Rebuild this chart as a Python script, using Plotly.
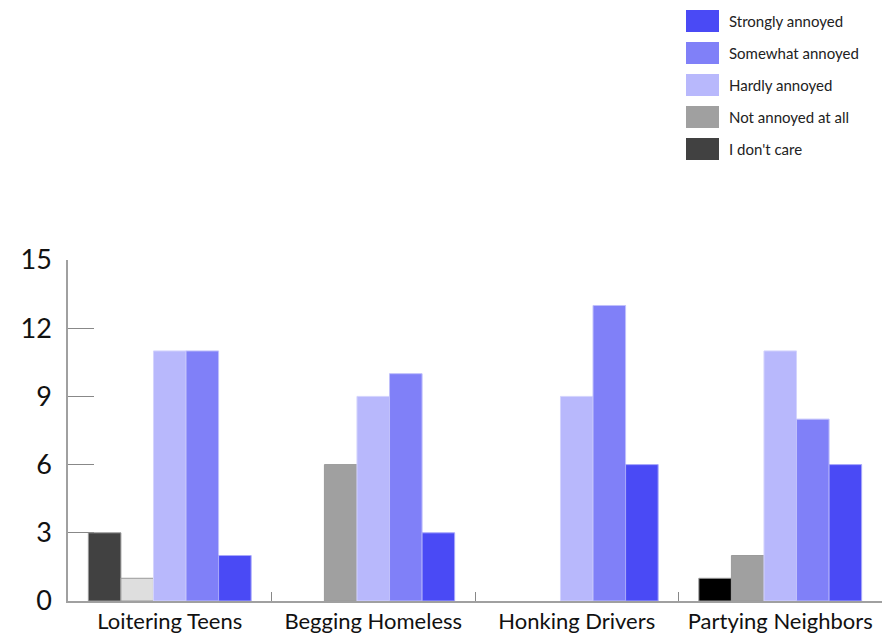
import plotly.graph_objects as go

# Survey: how annoyed people are by various neighbourhood nuisances
categories = ["Loitering Teens", "Begging Homeless", "Honking Drivers", "Partying Neighbors"]

series_names = ["I don't care", "Not annoyed at all", "Hardly annoyed", "Somewhat annoyed", "Strongly annoyed"]
dont_care = [3, 0, 0, 1]
not_annoyed = [1, 6, 0, 2]
hardly = [11, 9, 9, 11]
somewhat = [11, 10, 13, 8]
strongly = [2, 3, 6, 6]
series_values = [dont_care, not_annoyed, hardly, somewhat, strongly]

# base colour per series, with a few individually shaded points
series_colors = ["#414141", "#a0a0a0", "#b8b8fc", "#8080f8", "#4a4af5"]
point_colors = [
    ["#414141", "#414141", "#414141", "#000000"],
    ["#dedede", "#a0a0a0", "#a0a0a0", "#a0a0a0"],
    ["#b8b8fc"] * 4,
    ["#8080f8"] * 4,
    ["#4a4af5"] * 4,
]
outline_colors = ["#9a9a9a", "#9a9a9a", "#d4d4fd", "#c0c0fb", "#a8a8fa"]

y_ticks = [0, 3, 6, 9, 12, 15]

W, H = 890, 634
ML, MR, MT, MB = 68, 8, 260, 33
PW, PH = W - ML - MR, H - MT - MB

fig = go.Figure()
for name, vals, cols, oc in zip(series_names, series_values, point_colors, outline_colors):
    fig.add_trace(go.Bar(
        name=name,
        x=categories,
        y=vals,
        marker=dict(color=cols,
                    line=dict(color=oc, width=[1 if v else 0 for v in vals])),
        showlegend=False,
    ))


def px_x(p):
    return (p - ML) / PW


def px_y(p):
    return (H - MB - p) / PH


# legend drawn in the top-right corner, strongest first
legend_order = list(range(len(series_names)))[::-1]
for i, k in enumerate(legend_order):
    top = 10 + 32 * i
    fig.add_shape(type="rect", xref="paper", yref="paper",
                  x0=px_x(686), x1=px_x(719), y0=px_y(top + 22), y1=px_y(top),
                  fillcolor=series_colors[k], line=dict(width=0))
    fig.add_annotation(xref="paper", yref="paper", x=px_x(727), y=px_y(top + 11),
                       text=series_names[k], showarrow=False, xanchor="left",
                       yanchor="middle", font=dict(size=15, color="#222"))

fig.update_layout(
    width=W, height=H,
    margin=dict(l=ML, r=MR, t=MT, b=MB, autoexpand=False),
    plot_bgcolor="white", paper_bgcolor="white",
    barmode="group", bargap=0.2, bargroupgap=0,
    font=dict(family="Lato, Noto Sans, sans-serif", color="#222"),
    xaxis=dict(
        automargin=False,
        showline=True, linecolor="#a0a0a0", linewidth=1.5,
        ticks="inside", ticklen=9, tickwidth=1.2, tickcolor="#888", tickson="boundaries",
        tickfont=dict(size=22, color="#111"), showgrid=False,
        ticklabelstandoff=0,
    ),
    yaxis=dict(
        automargin=False,
        range=[0, 15], tickvals=y_ticks,
        showline=True, linecolor="#a0a0a0", linewidth=1.5,
        ticks="inside", ticklen=26, tickwidth=1.2, tickcolor="#888",
        tickfont=dict(size=27, color="#111"), showgrid=False, zeroline=False,
        ticklabelstandoff=9,
    ),
)

fig.write_html("out.html")
